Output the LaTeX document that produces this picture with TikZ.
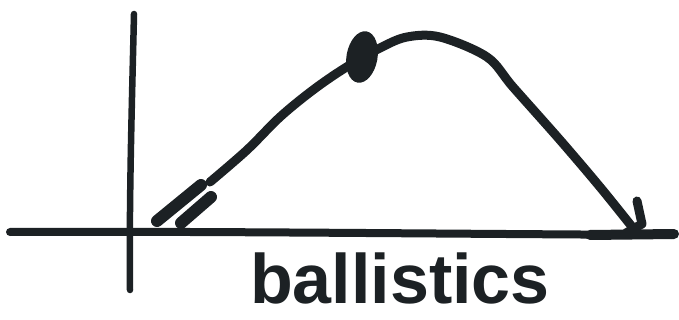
\documentclass[tikz,border=0pt]{standalone}
\usetikzlibrary{shapes.geometric}
\usepackage{fontspec}
\setmainfont{Liberation Sans}
\definecolor{ink}{HTML}{1C2124}
\tikzset{pen/.style={draw=ink,line width=9pt,line cap=round,line join=round}}
\begin{document}
\begin{tikzpicture}[x=1pt,y=-1pt]
\useasboundingbox (0,0) rectangle (679,320);
\fill[white] (0,0) rectangle (679,320);
% axes
\draw[pen,line width=6.5pt] (134,14) .. controls (132,100) and (129,200) .. (130,290);
\draw[pen,line width=8pt] (10,232) .. controls (200,231) and (450,234) .. (672,235);
% launcher
\draw[pen,line width=12pt] (157,221) -- (201,185);
\draw[pen,line width=12pt] (181,223) -- (211,197);
% trajectory
\draw[pen] plot[smooth,tension=0.55] coordinates {(210,182) (247,150) (280,117) (313,90) (345,68) (380,48) (407,37) (440,37) (487,57) (513,87) (560,140) (600,187) (633,228)};
% projectile
\node[fill=ink,ellipse,minimum width=31pt,minimum height=52pt,inner sep=0pt,rotate=-10] (ball) at (362,57) {};
% arrowhead
\draw[pen,line width=9pt] (637,201) -- (642,224) -- (626,233);
\draw[pen,line width=10pt] (590,235) -- (674,234);
% label
\node[anchor=base,text=ink,font=\bfseries\fontsize{70}{72}\selectfont,inner sep=0pt,text depth=0pt] (lbl) at (400,303) {ballistics};
\end{tikzpicture}
\end{document}
